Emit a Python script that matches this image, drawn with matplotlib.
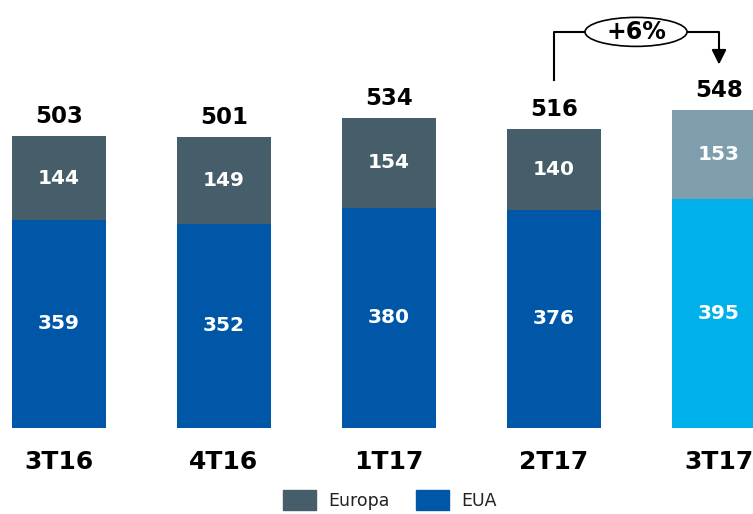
import matplotlib.pyplot as plt
from matplotlib.patches import Ellipse

# data
quarters = ["3T16", "4T16", "1T17", "2T17", "3T17"]
eua = [359, 352, 380, 376, 395]
europa = [144, 149, 154, 140, 153]
totals = [503, 501, 534, 516, 548]
growth_label = "+6%"

eua_colors = ["#0057a8"] * 4 + ["#00b0ea"]
europa_colors = ["#465e6a"] * 4 + ["#7f9ead"]

fig = plt.figure(figsize=(7.53, 5.14), dpi=100)
ax = fig.add_axes([0, 0, 1, 1])
ax.set_xlim(-0.3576, 4.206)
ax.set_ylim(-148.3, 738)
ax.axis("off")

x = list(range(len(quarters)))
w = 0.57
ax.bar(x, eua, width=w, color=eua_colors)
ax.bar(x, europa, width=w, bottom=eua, color=europa_colors)

for i in x:
    ax.text(i, eua[i] / 2, str(eua[i]), ha="center", va="center",
            color="white", fontsize=14.5, fontweight="heavy")
    ax.text(i, eua[i] + europa[i] / 2, str(europa[i]), ha="center", va="center",
            color="white", fontsize=14.5, fontweight="heavy")
    ax.text(i, totals[i] + 14, str(totals[i]), ha="center", va="bottom",
            color="black", fontsize=16.5, fontweight="heavy")
    ax.text(i, -58, quarters[i], ha="center", va="center",
            color="black", fontsize=18, fontweight="heavy")

# growth bracket from 2T17 to 3T17
y_top = 683
ax.plot([3, 3, 4, 4], [600, y_top, y_top, 640], color="black", lw=1.5)
ax.annotate("", xy=(4, 622), xytext=(4, 648),
            arrowprops=dict(arrowstyle="-|>", color="black", lw=1.5,
                            mutation_scale=22))
ax.add_patch(Ellipse((3.497, y_top), 0.618, 50, facecolor="white",
                     edgecolor="black", lw=1.2, zorder=3))
ax.text(3.497, y_top, growth_label, ha="center", va="center",
        fontsize=17, fontweight="heavy", zorder=4)

handles = [plt.Rectangle((0, 0), 1, 1, color=europa_colors[0]),
           plt.Rectangle((0, 0), 1, 1, color=eua_colors[0])]
fig.legend(handles, ["Europa", "EUA"], loc="center", bbox_to_anchor=(0.518, 0.027),
           ncol=2, frameon=False, fontsize=12.5, handlelength=1.9, handleheight=1.4,
           columnspacing=1.5, handletextpad=0.7, labelcolor="#222222")

fig.savefig("out.png", dpi=100)
